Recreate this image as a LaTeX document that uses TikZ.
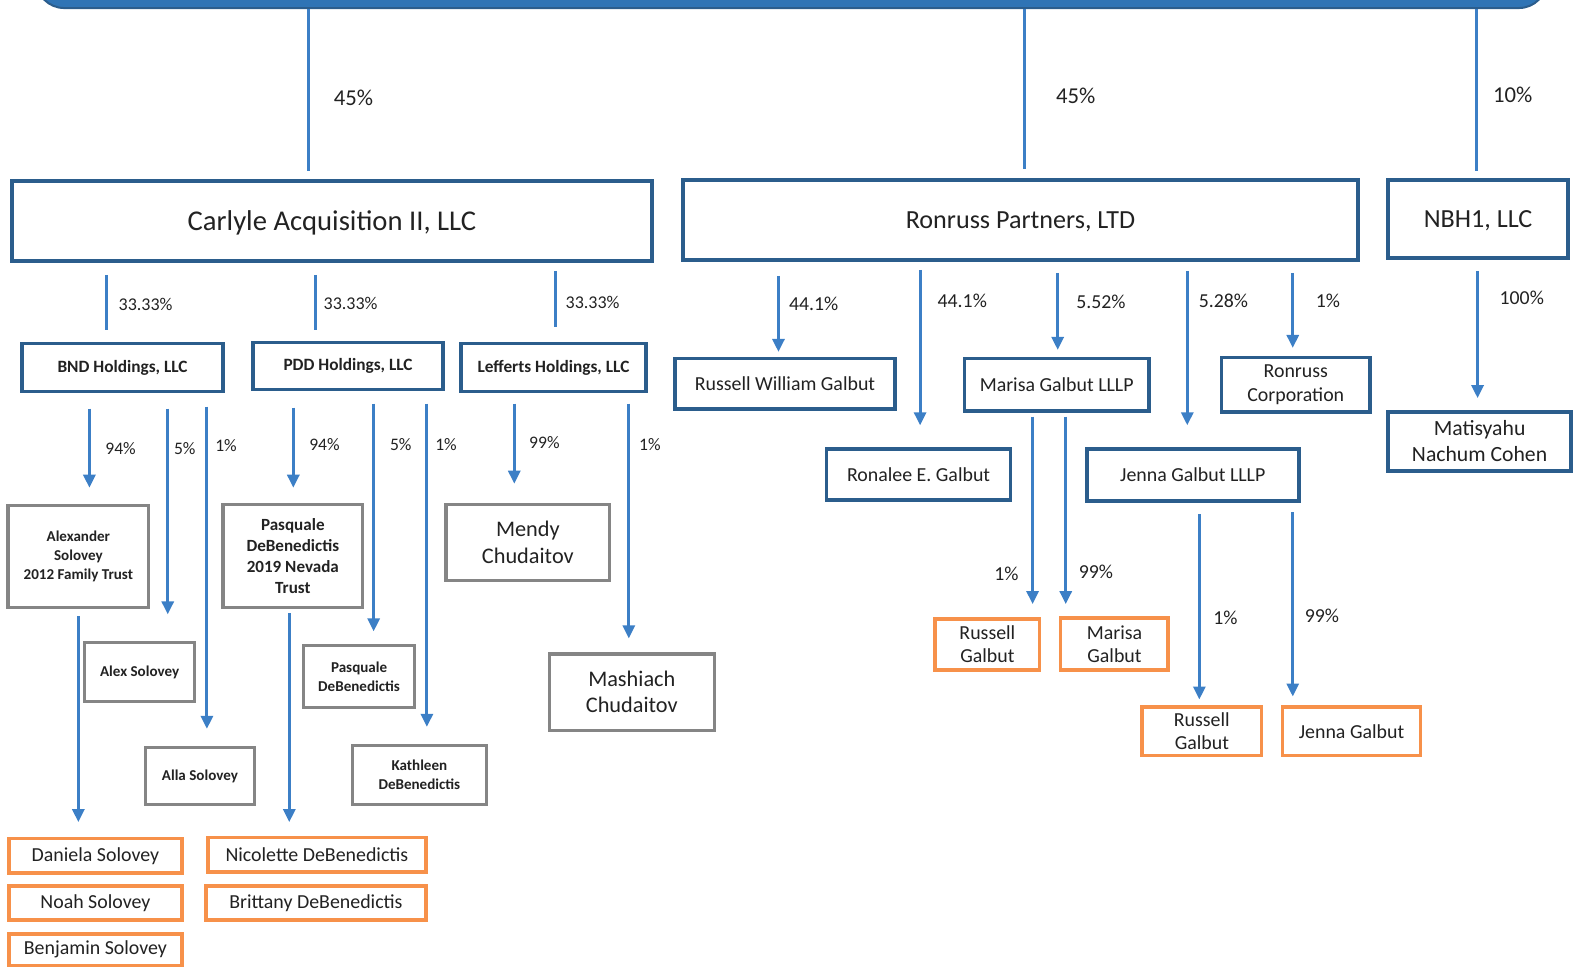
\documentclass[tikz,border=0pt]{standalone}
\usepackage{fontspec}
\setmainfont{Carlito}
\usetikzlibrary{arrows.meta}

\definecolor{boxblue}{HTML}{2B5D8C}
\definecolor{barblue}{HTML}{2F74B5}
\definecolor{linkblue}{HTML}{3C7FC6}
\definecolor{boxgray}{HTML}{858585}
\definecolor{boxorange}{HTML}{F7914A}
\definecolor{inktext}{HTML}{222222}

\tikzset{
  entity/.style={draw=boxblue, line width=3.5pt, fill=white, inner sep=0pt, align=center, text=inktext},
  member/.style={draw=boxgray, line width=3.2pt, fill=white, inner sep=0pt, align=center, text=inktext},
  heir/.style={draw=boxorange, line width=3.5pt, fill=white, inner sep=0pt, align=center, text=inktext},
  tie/.style={draw=linkblue, line width=3pt},
  flow/.style={tie, -{Triangle[width=12pt,length=13pt]}},
  share/.style={text=inktext, inner sep=0pt},
  big/.style={font=\fontsize{28.5}{32}\selectfont, text depth=0pt},
  large/.style={font=\fontsize{26}{30}\selectfont, text depth=0pt},
  mid/.style={font=\fontsize{19.8}{23}\selectfont},
  holding/.style={font=\bfseries\fontsize{17.2}{20}\selectfont},
  tiny/.style={font=\bfseries\fontsize{15}{18.5}\selectfont},
}

\begin{document}
\begin{tikzpicture}[x=1pt, y=-1pt, scale=1.00446, every node/.append style={transform shape}]
\useasboundingbox (0,0) rectangle (1568,969);
\clip (0,0) rectangle (1568,969);

% top owner, cut off by the page edge
\node [draw=boxblue, fill=barblue, line width=2pt, rounded corners=28pt, minimum width=1504pt, minimum height=90pt] (group) at (788,-37) {};

% first tier
\node [entity, big, minimum width=637pt, minimum height=80pt] (carlyle) at (330.5,220) {Carlyle Acquisition II, LLC};
\node [entity, large, minimum width=672pt, minimum height=80pt] (ronruss) at (1016,219) {Ronruss Partners, LTD};
\node [entity, large, minimum width=179pt, minimum height=78pt] (nbh) at (1471.5,218) {NBH1, LLC};

\node [share, font=\fontsize{22.6}{26}\selectfont] (s1) at (352,97) {45\%};
\node [share, font=\fontsize{22.6}{26}\selectfont] (s2) at (1071,95) {45\%};
\node [share, font=\fontsize{22.6}{26}\selectfont] (s3) at (1506,94) {10\%};

\draw [tie, shorten >=8pt] (group.south -| 307,0) -- (carlyle.north -| 307,0);
\draw [tie, shorten >=9pt] (group.south -| 1020,0) -- (ronruss.north -| 1020,0);
\draw [tie, shorten >=7pt] (group.south -| 1470,0) -- (nbh.north -| 1470,0);

% Carlyle side
\node [entity, holding, minimum width=200pt, minimum height=48pt] (bnd) at (122,366) {BND Holdings, LLC};
\node [entity, holding, minimum width=189pt, minimum height=47pt] (pdd) at (346.5,364.5) {PDD Holdings, LLC};
\node [entity, holding, minimum width=184pt, minimum height=48pt] (lefferts) at (551,366) {Lefferts Holdings, LLC};

\node [share, font=\fontsize{17.9}{20}\selectfont] (s4) at (145,303) {33.33\%};
\node [share, font=\fontsize{17.9}{20}\selectfont] (s5) at (349,302) {33.33\%};
\node [share, font=\fontsize{17.9}{20}\selectfont] (s6) at (590,301) {33.33\%};

\draw [tie, shorten <=12pt, shorten >=12pt] (carlyle.south -| 106,0) -- (bnd.north -| 106,0);
\draw [tie, shorten <=12pt, shorten >=11pt] (carlyle.south -| 314,0) -- (pdd.north -| 314,0);
\draw [tie, shorten <=8pt, shorten >=15pt] (carlyle.south -| 553,0) -- (lefferts.north -| 553,0);

\node [member, tiny, minimum width=140pt, minimum height=102pt] (alextrust) at (78,554) {Alexander\\Solovey\\2012 Family Trust};
\node [member, tiny, minimum width=110pt, minimum height=58pt] (alex) at (139,669) {Alex Solovey};
\node [member, tiny, minimum width=108pt, minimum height=57pt] (alla) at (199,772.5) {Alla Solovey};
\node [heir, mid, minimum width=172pt, minimum height=34pt] (daniela) at (95,852) {Daniela Solovey};
\node [heir, mid, minimum width=172pt, minimum height=34pt] (noah) at (95,899) {Noah Solovey};
\node [heir, mid, minimum width=172pt, minimum height=31pt] (benjamin) at (95,945.5) {Benjamin Solovey};

\node [share, font=\fontsize{17.5}{20}\selectfont] (s7) at (120,447) {94\%};
\node [share, font=\fontsize{17.5}{20}\selectfont] (s8) at (184,447) {5\%};
\node [share, font=\fontsize{17.5}{20}\selectfont] (s9) at (225,444) {1\%};

\draw [flow, shorten <=15pt, shorten >=16pt] (bnd.south -| 89,0) -- (alextrust.north -| 89,0);
\draw [flow, shorten <=15pt, shorten >=27pt] (bnd.south -| 167,0) -- (alex.north -| 167,0);
\draw [flow, shorten <=13pt, shorten >=17pt] (bnd.south -| 206,0) -- (alla.north -| 206,0);
\draw [flow, shorten <=7pt, shorten >=15pt] (alextrust.south -| 78,0) -- (daniela.north -| 78,0);

\node [member, font=\bfseries\fontsize{17}{21}\selectfont, minimum width=139pt, minimum height=103pt] (nevadatrust) at (291.5,553.5) {Pasquale\\DeBenedictis\\2019 Nevada\\Trust};
\node [member, font=\bfseries\fontsize{15}{19}\selectfont, minimum width=111pt, minimum height=61pt] (pasquale) at (357.5,673.5) {Pasquale\\DeBenedictis};
\node [member, font=\bfseries\fontsize{15}{19}\selectfont, minimum width=133pt, minimum height=59pt] (kathleen) at (417.5,771.5) {Kathleen\\DeBenedictis};
\node [heir, mid, minimum width=217pt, minimum height=34pt] (nicolette) at (315.5,851) {Nicolette DeBenedictis};
\node [heir, mid, minimum width=219pt, minimum height=34pt] (brittany) at (314.5,899) {Brittany DeBenedictis};

\node [share, font=\fontsize{17.5}{20}\selectfont] (s10) at (323,443) {94\%};
\node [share, font=\fontsize{17.5}{20}\selectfont] (s11) at (399,443) {5\%};
\node [share, font=\fontsize{17.5}{20}\selectfont] (s12) at (444,443) {1\%};

\draw [flow, shorten <=16pt, shorten >=15pt] (pdd.south -| 292,0) -- (nevadatrust.north -| 292,0);
\draw [flow, shorten <=12pt, shorten >=13pt] (pdd.south -| 372,0) -- (pasquale.north -| 372,0);
\draw [flow, shorten <=12pt, shorten >=17pt] (pdd.south -| 425,0) -- (kathleen.north -| 425,0);
\draw [flow, shorten <=4pt, shorten >=14pt] (nevadatrust.south -| 288,0) -- (nicolette.north -| 288,0);

\node [member, font=\fontsize{22.2}{27}\selectfont, minimum width=163pt, minimum height=76pt] (mendy) at (525.5,540) {Mendy\\Chudaitov};
\node [member, font=\fontsize{22.2}{26}\selectfont, minimum width=164pt, minimum height=76pt] (mashiach) at (629,689) {Mashiach\\Chudaitov};

\node [share, font=\fontsize{17.5}{20}\selectfont] (s13) at (542,441) {99\%};
\node [share, font=\fontsize{17.5}{20}\selectfont] (s14) at (647,443) {1\%};

\draw [flow, shorten <=10pt, shorten >=19pt] (lefferts.south -| 512,0) -- (mendy.north -| 512,0);
\draw [flow, shorten <=10pt, shorten >=14pt] (lefferts.south -| 626,0) -- (mashiach.north -| 626,0);

% Ronruss side
\node [entity, mid, minimum width=219pt, minimum height=50pt] (rwg) at (781.5,382) {Russell William Galbut};
\node [entity, mid, minimum width=183pt, minimum height=51pt] (ronalee) at (914.5,472.5) {Ronalee E. Galbut};
\node [entity, mid, minimum width=184pt, minimum height=52pt] (marisallp) at (1052,383) {Marisa Galbut LLLP};
\node [entity, mid, minimum width=211pt, minimum height=52pt] (jennallp) at (1187.5,473) {Jenna Galbut LLLP};
\node [entity, mid, minimum width=148pt, minimum height=54pt] (ronrusscorp) at (1290,383) {Ronruss\\Corporation};
\node [entity, font=\fontsize{21.6}{26}\selectfont, minimum width=182pt, minimum height=59pt] (cohen) at (1473,439.5) {Matisyahu\\Nachum Cohen};

\node [share, font=\fontsize{19.7}{22}\selectfont] (s15) at (810,302) {44.1\%};
\node [share, font=\fontsize{19.7}{22}\selectfont] (s16) at (958,299) {44.1\%};
\node [share, font=\fontsize{19.7}{22}\selectfont] (s17) at (1096,300) {5.52\%};
\node [share, font=\fontsize{19.7}{22}\selectfont] (s18) at (1218,299) {5.28\%};
\node [share, font=\fontsize{19.7}{22}\selectfont] (s19) at (1322,299) {1\%};
\node [share, font=\fontsize{19.7}{22}\selectfont] (s20) at (1515,297) {100\%};

\draw [flow, shorten <=14pt, shorten >=5pt] (ronruss.south -| 775,0) -- (rwg.north -| 775,0);
\draw [flow, shorten <=8pt, shorten >=22pt] (ronruss.south -| 916,0) -- (ronalee.north -| 916,0);
\draw [flow, shorten <=11pt, shorten >=7pt] (ronruss.south -| 1053,0) -- (marisallp.north -| 1053,0);
\draw [flow, shorten <=9pt, shorten >=22pt] (ronruss.south -| 1182,0) -- (jennallp.north -| 1182,0);
\draw [flow, shorten <=11pt, shorten >=8pt] (ronruss.south -| 1287,0) -- (ronrusscorp.north -| 1287,0);
\draw [flow, shorten <=11pt, shorten >=12pt] (nbh.south -| 1471,0) -- (cohen.north -| 1471,0);

\node [heir, mid, minimum width=104pt, minimum height=51pt] (russell1) at (983,641.5) {Russell\\Galbut};
\node [heir, mid, minimum width=107pt, minimum height=52pt] (marisa) at (1109.5,641) {Marisa\\Galbut};
\node [heir, mid, minimum width=119pt, minimum height=48pt] (russell2) at (1196.5,728) {Russell\\Galbut};
\node [heir, mid, minimum width=137pt, minimum height=48pt] (jenna) at (1345.5,728) {Jenna Galbut};

\node [share, font=\fontsize{19.7}{22}\selectfont] (s21) at (1002,571) {1\%};
\node [share, font=\fontsize{19.7}{22}\selectfont] (s22) at (1091,569) {99\%};
\node [share, font=\fontsize{19.7}{22}\selectfont] (s23) at (1220,615) {1\%};
\node [share, font=\fontsize{19.7}{22}\selectfont] (s24) at (1316,613) {99\%};

\draw [flow, shorten <=4pt, shorten >=13pt] (marisallp.south -| 1028,0) -- (russell1.north -| 1028,0);
\draw [flow, shorten <=4pt, shorten >=12pt] (marisallp.south -| 1061,0) -- (marisa.north -| 1061,0);
\draw [flow, shorten <=11pt, shorten >=6pt] (jennallp.south -| 1194,0) -- (russell2.north -| 1194,0);
\draw [flow, shorten <=9pt, shorten >=9pt] (jennallp.south -| 1287,0) -- (jenna.north -| 1287,0);

\end{tikzpicture}
\end{document}
